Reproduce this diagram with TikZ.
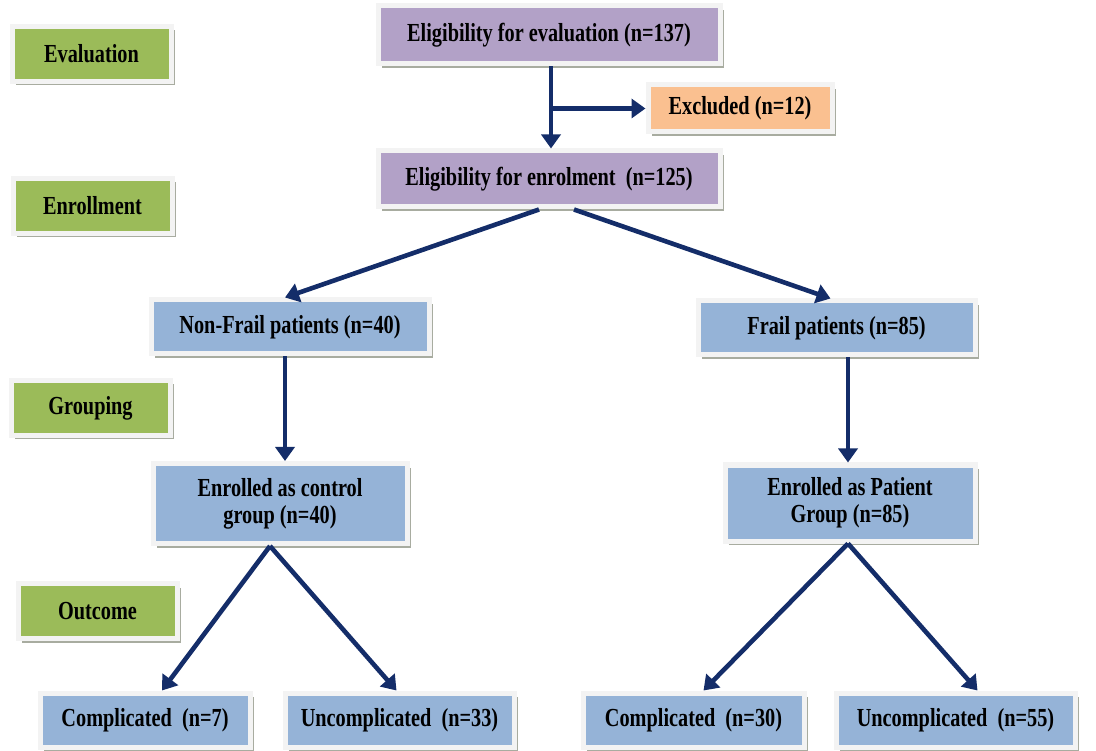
\documentclass[tikz,border=0pt]{standalone}
\usepackage{fontspec}
\setmainfont{Liberation Serif}[FakeStretch=0.78]
\usetikzlibrary{arrows.meta,shadows}
\definecolor{lgreen}{RGB}{155,187,89}
\definecolor{lpurple}{RGB}{178,161,199}
\definecolor{lorange}{RGB}{250,192,144}
\definecolor{lblue}{RGB}{149,179,215}
\definecolor{frame}{RGB}{243,243,243}
\definecolor{shadowc}{RGB}{168,172,160}
\definecolor{navy}{RGB}{20,45,105}
\begin{document}
\begin{tikzpicture}[x=1pt,y=-1pt,
  box/.style={draw=frame, line width=5pt, inner sep=0pt, align=center,
    drop shadow={shadow xshift=3.5pt, shadow yshift=-4pt, fill=shadowc, opacity=1},
    font=\fontsize{26}{27}\selectfont\bfseries},
  lbl/.style={box, fill=lgreen, minimum width=159pt, minimum height=55pt},
  pbox/.style={box, fill=lpurple},
  bbox/.style={box, fill=lblue},
  arr/.style={draw=navy, line width=4.6pt, -{Triangle[length=14pt,width=19pt]}}
]
\useasboundingbox (0,0) rectangle (1096,751);
% stage labels
\node[lbl] (lev) at (91.5,54) {Evaluation};
\node[lbl] (len) at (92.5,206) {Enrollment};
\node[lbl] (lgr) at (90.5,408) {Grouping};
\node[lbl] (lou) at (97.5,611) {Outcome};
% main flow
\node[pbox, minimum width=342pt, minimum height=58pt] (ee) at (549,35) {Eligibility for evaluation (n=137)};
\node[box, fill=lorange, minimum width=184pt, minimum height=47pt] (exc) at (740,108.5) {Excluded (n=12)};
\node[pbox, minimum width=342pt, minimum height=56pt] (enr) at (549,179) {Eligibility for enrolment~ (n=125)};
\node[bbox, minimum width=278pt, minimum height=54pt] (nf) at (290,327) {Non-Frail patients (n=40)};
\node[bbox, minimum width=277pt, minimum height=54pt] (fr) at (836.5,328) {Frail patients (n=85)};
\node[bbox, minimum width=254pt, minimum height=80pt] (ctl) at (280,503.5) {Enrolled as control\\group (n=40)};
\node[bbox, minimum width=250pt, minimum height=76pt] (pat) at (850,503) {Enrolled as Patient\\Group (n=85)};
\node[bbox, minimum width=210pt, minimum height=54pt] (c7) at (145,720) {Complicated~ (n=7)};
\node[bbox, minimum width=229pt, minimum height=54pt] (u33) at (399.5,720) {Uncomplicated~ (n=33)};
\node[bbox, minimum width=221pt, minimum height=54pt] (c30) at (693.5,720) {Complicated~ (n=30)};
\node[bbox, minimum width=239pt, minimum height=54pt] (u55) at (955.5,720) {Uncomplicated~ (n=55)};
% connectors
\draw[arr] ([xshift=2pt]ee.south) -- ([xshift=2pt]enr.north);
\draw[arr] ([xshift=2pt]ee.south |- exc.west) -- (exc.west);
\draw[arr] ([xshift=-10pt]enr.south) -- ([xshift=-5pt]nf.north);
\draw[arr] ([xshift=25pt]enr.south) -- ([xshift=-6pt]fr.north);
\draw[arr] ([xshift=-5pt]nf.south) -- ([xshift=5pt]ctl.north);
\draw[arr] ([xshift=11.5pt]fr.south) -- ([xshift=-2pt]pat.north);
\draw[arr] ([xshift=-10pt]ctl.south) -- ([xshift=17pt]c7.north);
\draw[arr] ([xshift=-10pt]ctl.south) -- ([xshift=-3pt]u33.north);
\draw[arr] ([xshift=-2pt]pat.south) -- ([xshift=10pt]c30.north);
\draw[arr] ([xshift=-2pt]pat.south) -- ([xshift=22pt]u55.north);
\end{tikzpicture}
\end{document}
